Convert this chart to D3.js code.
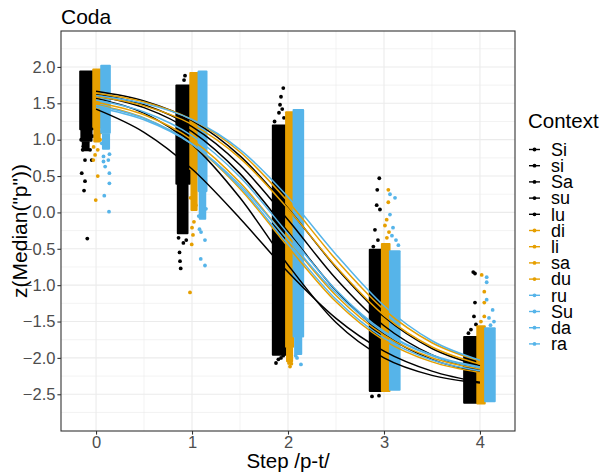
<!DOCTYPE html>
<html>
<head>
<meta charset="utf-8">
<script src="https://cdn.jsdelivr.net/npm/d3@7/dist/d3.min.js"></script>
<style>
  html, body { margin: 0; padding: 0; background: #fff; }
  svg { display: block; }
  text { font-family: "Liberation Sans", Arial, Helvetica, sans-serif; }
</style>
</head>
<body>
<svg id="chart" width="602" height="475"></svg>
<script>
// ---------------- DATA ----------------
const title = "Coda";
const xLabel = "Step /p-t/";
const yLabel = 'z(Median("p"))';
const legendTitle = "Context";

const xTicks = [0, 1, 2, 3, 4];
const xMinor = [0.5, 1.5, 2.5, 3.5];
const yTicks = [-2.5, -2.0, -1.5, -1.0, -0.5, 0.0, 0.5, 1.0, 1.5, 2.0];
const yMinor = [-2.75, -2.25, -1.75, -1.25, -0.75, -0.25, 0.25, 0.75, 1.25, 1.75, 2.25];

const contexts = ["Si", "si", "Sa", "su", "lu", "di", "li", "sa", "du", "ru", "Su", "da", "ra"];
const contextGroup = ["k", "k", "k", "k", "k", "o", "o", "o", "o", "b", "b", "b", "b"];
const groupColor = { k: "#000000", o: "#E69F00", b: "#56B4E9" };

// fitted curve values at these steps
const curveSteps = [0, 0.5, 1, 1.5, 2, 2.5, 3, 3.5, 4];
const curveSi = [1.665, 1.532, 1.263, 0.778, 0.058, -0.756, -1.435, -1.871, -2.107];
const curvesi = [1.604, 1.440, 1.110, 0.533, -0.266, -1.075, -1.673, -2.021, -2.195];
const curveSa = [1.629, 1.479, 1.179, 0.652, -0.101, -0.912, -1.558, -1.958, -2.170];
const curvesu = [1.568, 1.364, 0.936, 0.201, -0.722, -1.514, -2.000, -2.240, -2.345];
const curvelu = [1.420, 1.101, 0.596, -0.083, -0.820, -1.457, -1.907, -2.182, -2.335];
const curvedi = [1.638, 1.518, 1.275, 0.830, 0.149, -0.649, -1.337, -1.792, -2.042];
const curveli = [1.515, 1.342, 0.998, 0.410, -0.376, -1.141, -1.688, -1.999, -2.153];
const curvesa = [1.592, 1.465, 1.210, 0.746, 0.051, -0.744, -1.415, -1.850, -2.086];
const curvedu = [1.485, 1.300, 0.937, 0.326, -0.472, -1.229, -1.758, -2.055, -2.200];
const curveru = [1.544, 1.381, 1.054, 0.486, -0.290, -1.066, -1.634, -1.961, -2.124];
const curveSu = [1.608, 1.499, 1.277, 0.863, 0.212, -0.577, -1.284, -1.764, -2.032];
const curveda = [1.471, 1.294, 0.943, 0.348, -0.438, -1.194, -1.728, -2.029, -2.177];
const curvera = [1.447, 1.273, 0.938, 0.376, -0.371, -1.109, -1.652, -1.972, -2.136];
const curveValues = [curveSi, curvesi, curveSa, curvesu, curvelu, curvedi, curveli, curvesa, curvedu, curveru, curveSu, curveda, curvera];

// dense jittered point clouds (outer extent): [step, group, dxLeft, dxRight, zTop, zBottom]
const denseClouds = [
  [0, "k", -0.167, -0.031, 1.95, 1.13], [0, "k", -0.155, -0.045, 1.14, 0.97], [0, "k", -0.140, -0.075, 0.98, 0.84],
  [0, "o", -0.031, 0.052, 1.98, 1.16], [0, "o", -0.020, 0.040, 1.17, 0.96],
  [0, "b", 0.052, 0.146, 2.03, 1.08], [0, "b", 0.070, 0.138, 1.09, 0.86],
  [1, "k", -0.165, -0.020, 1.76, 0.38], [1, "k", -0.150, -0.045, 0.39, -0.30],
  [1, "o", -0.020, 0.066, 1.93, 0.58], [1, "o", -0.008, 0.050, 0.59, 0.02],
  [1, "b", 0.066, 0.153, 1.95, 0.28], [1, "b", 0.078, 0.140, 0.29, -0.10],
  [2, "k", -0.160, -0.022, 1.21, -1.97],
  [2, "o", -0.022, 0.056, 1.39, -1.86], [2, "o", -0.012, 0.045, -1.85, -2.06],
  [2, "b", 0.056, 0.160, 1.42, -1.72], [2, "b", 0.072, 0.140, -1.71, -1.96],
  [3, "k", -0.150, -0.024, -0.50, -2.47],
  [3, "o", -0.024, 0.060, -0.42, -2.47],
  [3, "b", 0.060, 0.165, -0.52, -2.45],
  [4, "k", -0.167, -0.030, -1.70, -2.63],
  [4, "o", -0.030, 0.052, -1.55, -2.64],
  [4, "b", 0.052, 0.156, -1.58, -2.61]
];

// individual scattered points: [step, group, dx, z]
const scatterPoints = [
  [0, "k", -0.139, 0.86], [0, "k", -0.115, 0.72], [0, "k", -0.149, 0.54], [0, "k", -0.115, 0.43],
  [0, "k", -0.125, 0.30], [0, "k", -0.091, -0.36], [0, "k", -0.132, 0.91], [0, "k", -0.097, 0.88],
  [0, "k", -0.045, 0.72], [0, "k", -0.062, 0.86], [0, "k", -0.155, 1.00], [0, "k", -0.035, 1.05],
  [0, "o", 0.018, 0.50], [0, "o", -0.003, 0.17], [0, "o", -0.028, 0.72], [0, "o", -0.010, 0.79],
  [0, "o", 0.018, 0.86], [0, "o", 0.042, 1.00], [0, "o", 0.045, 1.10], [0, "o", -0.025, 0.90],
  [0, "b", 0.139, 0.40], [0, "b", 0.086, 0.23], [0, "b", 0.135, 0.01], [0, "b", 0.078, 0.77],
  [0, "b", 0.078, 0.70], [0, "b", 0.095, 0.63], [0, "b", 0.128, 0.72], [0, "b", 0.139, 0.54],
  [0, "b", 0.140, 0.80], [0, "b", 0.060, 0.95],
  [1, "k", -0.073, 1.88], [1, "k", -0.083, 1.82], [1, "k", -0.125, -0.67], [1, "k", -0.118, -0.77],
  [1, "k", -0.130, -0.55], [1, "k", -0.090, -0.42], [1, "k", -0.140, -0.35], [1, "k", -0.060, -0.38],
  [1, "o", -0.003, -0.44], [1, "o", -0.021, -1.10], [1, "o", 0.010, -0.31], [1, "o", 0.000, -0.21],
  [1, "o", 0.020, -0.13], [1, "o", 0.040, 0.10], [1, "o", -0.015, 0.20],
  [1, "b", 0.135, -0.38], [1, "b", 0.091, -0.64], [1, "b", 0.135, -0.73], [1, "b", 0.094, -0.27],
  [1, "b", 0.078, -0.23], [1, "b", 0.125, -0.03], [1, "b", 0.145, 0.05], [1, "b", 0.070, -0.05],
  [2, "k", -0.049, 1.71], [2, "k", -0.073, 1.59], [2, "k", -0.083, 1.48], [2, "k", -0.094, 1.37],
  [2, "k", -0.042, 1.30], [2, "k", -0.125, 1.18], [2, "k", -0.140, 1.25], [2, "k", -0.060, 1.42],
  [2, "k", -0.125, -2.07], [2, "k", -0.073, -2.00], [2, "k", -0.100, -2.02], [2, "k", -0.050, -1.97],
  [2, "o", 0.021, -2.12], [2, "o", 0.010, -2.07], [2, "o", 0.035, -2.08],
  [2, "b", 0.135, -2.09], [2, "b", 0.094, -2.00], [2, "b", 0.125, -1.89], [2, "b", 0.080, -1.97],
  [3, "k", -0.049, 0.47], [3, "k", -0.070, 0.31], [3, "k", -0.076, 0.10], [3, "k", -0.042, 0.04],
  [3, "k", -0.111, -0.47], [3, "k", -0.094, -0.24], [3, "k", -0.063, -0.38], [3, "k", -0.125, -2.53],
  [3, "k", -0.052, -2.52], [3, "k", -0.130, -0.60], [3, "k", -0.080, -0.55],
  [3, "o", 0.045, 0.31], [3, "o", 0.045, 0.14], [3, "o", 0.028, -0.10], [3, "o", 0.010, -0.18],
  [3, "o", 0.052, -0.27], [3, "o", 0.030, -0.35],
  [3, "b", 0.0625, 0.25], [3, "b", 0.115, 0.20], [3, "b", 0.0625, -0.03], [3, "b", 0.094, -0.21],
  [3, "b", 0.125, -0.38], [3, "b", 0.083, -0.32], [3, "b", 0.150, -0.45],
  [4, "k", -0.070, -0.82], [4, "k", -0.052, -0.84], [4, "k", -0.052, -1.24], [4, "k", -0.0625, -1.43],
  [4, "k", -0.042, -1.54], [4, "k", -0.094, -1.61], [4, "k", -0.120, -1.66],
  [4, "o", 0.018, -0.86], [4, "o", 0.045, -1.09], [4, "o", 0.045, -1.24], [4, "o", 0.045, -1.43],
  [4, "o", 0.010, -1.50],
  [4, "b", 0.070, -0.89], [4, "b", 0.070, -0.96], [4, "b", 0.070, -1.20], [4, "b", 0.132, -1.34],
  [4, "b", 0.094, -1.45], [4, "b", 0.146, -1.50], [4, "b", 0.110, -1.55]
];

// ---------------- LAYOUT ----------------
const panel = { left: 61, right: 515, top: 31, bottom: 431 };
const svg = d3.select("#chart");

const x = d3.scaleLinear().domain([-0.365, 4.365]).range([panel.left, panel.right]);
const y = d3.scaleLinear().domain([-3.005, 2.494]).range([panel.bottom, panel.top]);

const gridCol = "#EBEBEB";
const axisTextCol = "#4D4D4D";

svg.append("rect").attr("x", panel.left).attr("y", panel.top)
  .attr("width", panel.right - panel.left).attr("height", panel.bottom - panel.top)
  .attr("fill", "#fff");

// grid
const grid = svg.append("g");
grid.selectAll(".ymin").data(yMinor).enter().append("line")
  .attr("x1", panel.left).attr("x2", panel.right)
  .attr("y1", d => y(d)).attr("y2", d => y(d))
  .attr("stroke", gridCol).attr("stroke-width", 0.6);
grid.selectAll(".xmin").data(xMinor).enter().append("line")
  .attr("y1", panel.top).attr("y2", panel.bottom)
  .attr("x1", d => x(d)).attr("x2", d => x(d))
  .attr("stroke", gridCol).attr("stroke-width", 0.6);
grid.selectAll(".ymaj").data(yTicks).enter().append("line")
  .attr("x1", panel.left).attr("x2", panel.right)
  .attr("y1", d => y(d)).attr("y2", d => y(d))
  .attr("stroke", gridCol).attr("stroke-width", 1.1);
grid.selectAll(".xmaj").data(xTicks).enter().append("line")
  .attr("y1", panel.top).attr("y2", panel.bottom)
  .attr("x1", d => x(d)).attr("x2", d => x(d))
  .attr("stroke", gridCol).attr("stroke-width", 1.1);

svg.append("clipPath").attr("id", "clip").append("rect")
  .attr("x", panel.left).attr("y", panel.top)
  .attr("width", panel.right - panel.left).attr("height", panel.bottom - panel.top);
const plot = svg.append("g").attr("clip-path", "url(#clip)");

const groupOrder = ["k", "o", "b"];
const R = 1.9;
const overlap = 0.8; // px, so neighbouring clouds touch like the overlapping points do

groupOrder.forEach(g => {
  const clouds = denseClouds.filter(d => d[1] === g);
  plot.selectAll(null).data(clouds).enter().append("rect")
    .attr("x", d => x(d[0] + d[2]) - overlap)
    .attr("width", d => x(d[0] + d[3]) - x(d[0] + d[2]) + 2 * overlap)
    .attr("y", d => y(d[4]))
    .attr("height", d => y(d[5]) - y(d[4]))
    .attr("rx", 1).attr("ry", 1)
    .attr("fill", groupColor[g]);
  const pts = scatterPoints.filter(d => d[1] === g);
  plot.selectAll(null).data(pts).enter().append("circle")
    .attr("cx", d => x(d[0] + d[2]))
    .attr("cy", d => y(d[3]))
    .attr("r", R)
    .attr("fill", groupColor[g]);
});

// curves
const line = d3.line()
  .x((d, i) => x(curveSteps[i]))
  .y(d => y(d))
  .curve(d3.curveMonotoneX);
contexts.forEach((c, i) => {
  plot.append("path")
    .attr("d", line(curveValues[i]))
    .attr("fill", "none")
    .attr("stroke", groupColor[contextGroup[i]])
    .attr("stroke-width", 1.5);
});

// panel border
svg.append("rect").attr("x", panel.left).attr("y", panel.top)
  .attr("width", panel.right - panel.left).attr("height", panel.bottom - panel.top)
  .attr("fill", "none").attr("stroke", "#333333").attr("stroke-width", 1.1);

// axes
const yAxis = svg.append("g").attr("transform", `translate(${panel.left},0)`)
  .call(d3.axisLeft(y).tickValues(yTicks).tickFormat(d3.format(".1f")).tickSize(3.6).tickPadding(2));
const xAxis = svg.append("g").attr("transform", `translate(0,${panel.bottom})`)
  .call(d3.axisBottom(x).tickValues(xTicks).tickFormat(d3.format("d")).tickSize(3.6).tickPadding(2));
[yAxis, xAxis].forEach(a => {
  a.select(".domain").remove();
  a.selectAll(".tick line").attr("stroke", "#333333").attr("stroke-width", 1.1);
  a.selectAll(".tick text").attr("fill", axisTextCol)
    .style("font-size", "16.5px")
    .style("font-family", '"Liberation Sans", Arial, sans-serif');
});

// titles
svg.append("text").attr("x", panel.left).attr("y", 24)
  .style("font-size", "21px").attr("fill", "#000").text(title);
svg.append("text").attr("x", (panel.left + panel.right) / 2).attr("y", 467.5)
  .attr("text-anchor", "middle").style("font-size", "20.5px").attr("fill", "#000").text(xLabel);
svg.append("text")
  .attr("transform", `translate(27,${(panel.top + panel.bottom) / 2}) rotate(-90)`)
  .attr("text-anchor", "middle").style("font-size", "21px").attr("fill", "#000").text(yLabel);

// legend
const legend = svg.append("g");
legend.append("text").attr("x", 528).attr("y", 128)
  .style("font-size", "20.5px").attr("fill", "#000").text(legendTitle);
const items = legend.selectAll(".item").data(contexts).enter().append("g")
  .attr("transform", (d, i) => `translate(0,${149.5 + i * 16.2})`);
items.append("line").attr("x1", 529).attr("x2", 540).attr("y1", 0).attr("y2", 0)
  .attr("stroke", (d, i) => groupColor[contextGroup[i]]).attr("stroke-width", 1.4);
items.append("circle").attr("cx", 534.5).attr("cy", 0).attr("r", 1.9)
  .attr("fill", (d, i) => groupColor[contextGroup[i]]);
items.append("text").attr("x", 551).attr("y", 6.3)
  .style("font-size", "18px").attr("fill", "#000").text(d => d);
</script>
</body>
</html>
